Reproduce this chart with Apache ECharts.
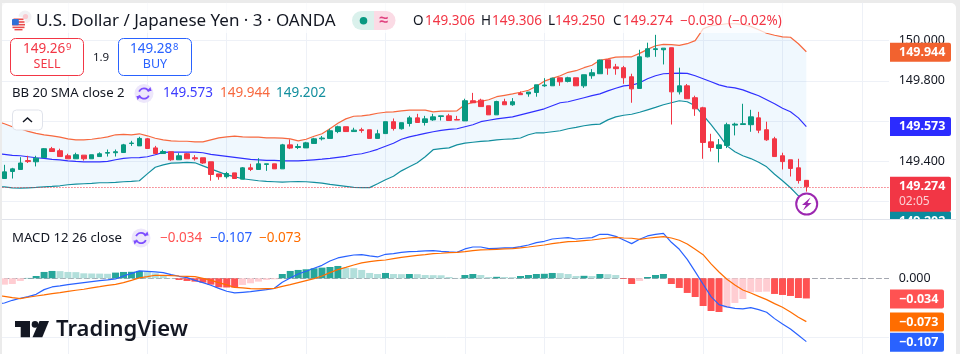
<!DOCTYPE html>
<html>
<head>
<meta charset="utf-8">
<title>USD/JPY</title>
<script src="https://cdn.jsdelivr.net/npm/echarts@6/dist/echarts.min.js"></script>
<style>
  html, body { margin: 0; padding: 0; background: #ebebeb; }
  #panel { position: absolute; left: 2px; top: 3px; width: 954px; height: 351px; background: #fff; border-radius: 5px 5px 0 0; }
  #chart { position: absolute; left: 0; top: 0; width: 960px; height: 354px; }
</style>
</head>
<body>
<div id="panel"></div>
<div id="chart"></div>
<script>
// candles, oldest first
var opens = [
  149.315,149.350,149.360,149.404,149.398,149.419,149.463,149.453,149.428,149.413,
  149.431,149.413,149.424,149.441,149.443,149.444,149.489,149.477,149.512,149.467,
  149.439,149.448,149.408,149.438,149.418,149.418,149.398,149.338,149.324,149.343,
  149.312,149.368,149.360,149.385,149.388,149.363,149.482,149.469,149.467,149.489,
  149.512,149.514,149.548,149.572,149.548,149.557,149.557,149.514,149.538,149.597,
  149.562,149.588,149.616,149.593,149.606,149.623,149.626,149.608,149.601,149.701,
  149.704,149.676,149.631,149.696,149.681,149.737,149.735,149.742,149.775,149.775,
  149.815,149.797,149.815,149.775,149.825,149.835,149.904,149.869,149.865,149.820,
  149.762,149.919,149.955,149.954,149.964,149.745,149.775,149.716,149.666,149.497,
  149.464,149.479,149.580,149.583,149.582,149.616,149.557,149.512,149.428,149.408,
  149.368,149.306]
var closes = [
  149.348,149.363,149.392,149.399,149.416,149.463,149.449,149.424,149.413,149.433,
  149.413,149.433,149.438,149.444,149.448,149.482,149.491,149.514,149.464,149.439,
  149.449,149.408,149.428,149.413,149.413,149.392,149.335,149.324,149.340,149.315,
  149.368,149.360,149.388,149.388,149.363,149.482,149.466,149.474,149.492,149.512,
  149.516,149.552,149.572,149.548,149.555,149.553,149.514,149.537,149.597,149.563,
  149.592,149.616,149.593,149.611,149.621,149.626,149.603,149.605,149.701,149.691,
  149.672,149.631,149.697,149.681,149.696,149.731,149.744,149.780,149.779,149.813,
  149.795,149.815,149.775,149.830,149.840,149.903,149.863,149.860,149.815,149.760,
  149.919,149.959,149.959,149.962,149.745,149.775,149.711,149.661,149.494,149.469,
  149.482,149.582,149.585,149.587,149.621,149.555,149.507,149.424,149.399,149.365,
  149.305,149.274]
var lows = [
  149.315,149.315,149.360,149.392,149.375,149.419,149.449,149.424,149.413,149.413,
  149.404,149.413,149.424,149.424,149.424,149.444,149.477,149.477,149.464,149.439,
  149.439,149.403,149.408,149.413,149.404,149.388,149.304,149.309,149.315,149.315,
  149.312,149.352,149.360,149.353,149.363,149.363,149.461,149.461,149.467,149.489,
  149.504,149.514,149.540,149.548,149.548,149.542,149.514,149.514,149.538,149.553,
  149.558,149.573,149.593,149.578,149.601,149.603,149.603,149.605,149.601,149.691,
  149.672,149.631,149.631,149.681,149.676,149.731,149.721,149.721,149.770,149.775,
  149.775,149.792,149.775,149.765,149.810,149.835,149.830,149.830,149.785,149.691,
  149.762,149.916,149.919,149.881,149.583,149.732,149.711,149.626,149.413,149.449,
  149.395,149.466,149.529,149.583,149.547,149.540,149.502,149.424,149.360,149.325,
  149.290,149.250]
var highs = [
  149.383,149.368,149.421,149.428,149.428,149.466,149.472,149.463,149.438,149.443,
  149.431,149.433,149.445,149.459,149.459,149.487,149.502,149.522,149.516,149.477,
  149.458,149.448,149.441,149.441,149.431,149.418,149.398,149.338,149.348,149.343,
  149.372,149.388,149.416,149.388,149.388,149.487,149.509,149.487,149.497,149.517,
  149.526,149.562,149.577,149.572,149.567,149.567,149.557,149.557,149.597,149.613,
  149.592,149.626,149.636,149.626,149.636,149.626,149.636,149.626,149.711,149.740,
  149.711,149.676,149.701,149.711,149.714,149.747,149.744,149.780,149.813,149.815,
  149.815,149.820,149.815,149.830,149.858,149.905,149.904,149.884,149.874,149.835,
  149.954,149.989,150.028,149.962,149.964,149.865,149.784,149.726,149.671,149.537,
  149.511,149.592,149.592,149.686,149.656,149.646,149.597,149.522,149.443,149.408,
  149.413,149.306]

// bollinger bands and macd lines start one bar earlier, just off the left edge
var upperBand = [149.600,
  149.587,149.572,149.562,149.549,149.539,149.532,149.527,149.520,149.512,149.507,
  149.507,149.510,149.515,149.522,149.532,149.534,149.532,149.537,149.527,149.515,
  149.507,149.502,149.500,149.500,149.497,149.497,149.507,149.517,149.522,149.525,
  149.522,149.520,149.520,149.517,149.517,149.515,149.512,149.502,149.510,149.525,
  149.537,149.562,149.589,149.611,149.624,149.626,149.631,149.639,149.644,149.646,
  149.651,149.654,149.654,149.654,149.646,149.649,149.649,149.651,149.681,149.693,
  149.698,149.706,149.721,149.728,149.735,149.743,149.753,149.773,149.798,149.812,
  149.825,149.842,149.850,149.865,149.877,149.902,149.909,149.917,149.919,149.919,
  149.936,149.956,149.974,149.981,149.979,149.976,149.984,149.999,150.058,150.073,
  150.078,150.083,150.083,150.080,150.070,150.053,150.036,150.026,150.018,150.016,
  149.984,149.944]
var middleBand = [149.439,
  149.435,149.430,149.428,149.423,149.418,149.415,149.410,149.408,149.403,149.400,
  149.398,149.398,149.398,149.400,149.408,149.415,149.418,149.419,149.423,149.433,
  149.445,149.446,149.446,149.446,149.446,149.443,149.435,149.430,149.425,149.420,
  149.415,149.410,149.408,149.405,149.405,149.403,149.403,149.403,149.405,149.408,
  149.411,149.415,149.420,149.425,149.433,149.438,149.448,149.460,149.475,149.490,
  149.510,149.522,149.530,149.539,149.547,149.554,149.559,149.562,149.572,149.582,
  149.597,149.604,149.611,149.616,149.621,149.631,149.641,149.651,149.661,149.676,
  149.691,149.696,149.706,149.716,149.726,149.735,149.750,149.763,149.775,149.778,
  149.790,149.810,149.825,149.835,149.837,149.838,149.837,149.825,149.810,149.795,
  149.780,149.770,149.765,149.755,149.740,149.726,149.706,149.686,149.664,149.646,
  149.616,149.573]
var lowerBand = [149.273,
  149.274,149.269,149.267,149.269,149.271,149.274,149.276,149.279,149.284,149.287,
  149.289,149.291,149.294,149.294,149.296,149.299,149.301,149.304,149.338,149.371,
  149.383,149.391,149.393,149.395,149.393,149.378,149.363,149.348,149.333,149.324,
  149.314,149.309,149.304,149.301,149.299,149.297,149.299,149.300,149.299,149.296,
  149.292,149.286,149.281,149.276,149.271,149.270,149.270,149.289,149.309,149.326,
  149.353,149.373,149.393,149.423,149.458,149.463,149.467,149.482,149.491,149.495,
  149.499,149.502,149.507,149.510,149.512,149.516,149.532,149.542,149.542,149.547,
  149.552,149.562,149.569,149.577,149.582,149.585,149.606,149.621,149.629,149.634,
  149.644,149.656,149.668,149.681,149.691,149.701,149.696,149.676,149.629,149.582,
  149.532,149.477,149.448,149.428,149.414,149.396,149.373,149.336,149.304,149.269,
  149.229,149.202]

var macdLine = [-0.0438,
  -0.0416,-0.0371,-0.0337,-0.0309,-0.0270,-0.0191,-0.0146,-0.0129,-0.0107,-0.0090,
  -0.0073,-0.0056,-0.0039,-0.0028,-0.0011,0.0039,0.0084,0.0124,0.0118,0.0107,
  0.0096,0.0062,0.0034,0.0011,-0.0034,-0.0073,-0.0118,-0.0169,-0.0219,-0.0247,
  -0.0236,-0.0225,-0.0208,-0.0191,-0.0169,-0.0067,0.0006,0.0073,0.0118,0.0169,
  0.0219,0.0292,0.0343,0.0371,0.0393,0.0399,0.0377,0.0360,0.0405,0.0416,
  0.0438,0.0450,0.0455,0.0461,0.0467,0.0455,0.0444,0.0438,0.0495,0.0528,
  0.0528,0.0500,0.0506,0.0512,0.0512,0.0534,0.0562,0.0601,0.0624,0.0663,
  0.0675,0.0686,0.0663,0.0675,0.0686,0.0742,0.0742,0.0708,0.0646,0.0585,
  0.0658,0.0714,0.0742,0.0759,0.0607,0.0489,0.0320,0.0112,-0.0101,-0.0309,
  -0.0444,-0.0483,-0.0506,-0.0517,-0.0495,-0.0528,-0.0573,-0.0680,-0.0770,-0.0854,
  -0.0961,-0.1068]
var signalLine = [-0.0287,
  -0.0304,-0.0326,-0.0343,-0.0320,-0.0298,-0.0281,-0.0259,-0.0242,-0.0219,-0.0202,
  -0.0185,-0.0163,-0.0141,-0.0118,-0.0101,-0.0073,-0.0034,0.0006,0.0028,0.0051,
  0.0051,0.0045,0.0039,0.0034,0.0028,0,-0.0034,-0.0073,-0.0112,-0.0152,
  -0.0163,-0.0174,-0.0180,-0.0174,-0.0169,-0.0135,-0.0107,-0.0073,-0.0039,-0.0006,
  0.0039,0.0096,0.0146,0.0185,0.0225,0.0259,0.0281,0.0298,0.0309,0.0332,
  0.0354,0.0371,0.0388,0.0399,0.0416,0.0422,0.0433,0.0438,0.0450,0.0467,
  0.0478,0.0483,0.0489,0.0495,0.0500,0.0512,0.0528,0.0545,0.0562,0.0585,
  0.0601,0.0618,0.0624,0.0635,0.0646,0.0663,0.0680,0.0691,0.0680,0.0675,
  0.0658,0.0675,0.0691,0.0703,0.0680,0.0641,0.0579,0.0489,0.0399,0.0242,
  0.0107,-0.0017,-0.0112,-0.0197,-0.0247,-0.0304,-0.0360,-0.0427,-0.0489,-0.0568,
  -0.0658,-0.0731]
var macdHist = [
  -0.0107,-0.0096,-0.0045,0.0006,0.0039,0.0107,0.0124,0.0121,0.0107,0.0104,
  0.0084,0.0081,0.0079,0.0076,0.0096,0.0107,0.0110,0.0124,0.0118,0.0084,
  0.0056,0.0006,-0.0028,-0.0045,-0.0056,-0.0073,-0.0107,-0.0152,-0.0155,-0.0157,
  -0.0112,-0.0084,-0.0056,-0.0028,-0.0017,0.0073,0.0124,0.0141,0.0152,0.0169,
  0.0180,0.0191,0.0208,0.0174,0.0171,0.0141,0.0090,0.0073,0.0090,0.0073,
  0.0070,0.0073,0.0070,0.0056,0.0053,0.0051,0.0022,0.0006,0.0056,0.0073,
  0.0056,0.0022,0.0025,0.0022,0.0020,0.0039,0.0056,0.0073,0.0076,0.0090,
  0.0087,0.0073,0.0039,0.0042,0.0039,0.0073,0.0070,0.0056,-0.0011,-0.0096,
  -0.0045,0.0022,0.0056,0.0073,-0.0096,-0.0163,-0.0247,-0.0315,-0.0467,-0.0551,
  -0.0568,-0.0495,-0.0416,-0.0349,-0.0236,-0.0230,-0.0225,-0.0264,-0.0281,-0.0298,
  -0.0332,-0.0340]

var lastClose = 149.274
var FONT = '"Noto Sans", sans-serif'
var UP = '#089981'
var DOWN = '#F23645'
var GRID_COLOR = '#eef1f7'

// one hidden bar on the left plus empty room on the right
var categories = []
for (var k = 0; k < 114; k++) categories.push(k)

var candleData = [['-', '-', '-', '-']]
for (var i = 0; i < opens.length; i++) {
  candleData.push([opens[i], closes[i], lows[i], highs[i]])
}
var bandWidth = upperBand.map(function (v, i) { return +(v - lowerBand[i]).toFixed(3) })

var histData = [null].concat(macdHist)

function histColor (p) {
  var i = p.dataIndex - 1
  var v = macdHist[i]
  var prev = i > 0 ? macdHist[i - 1] : -1
  if (v >= 0) return prev < v ? '#26a69a' : '#b2dfdb'
  return prev < v ? '#ffcdd2' : '#ff5252'
}

function lineSeries (name, data, color, xi) {
  return {
    name: name, type: 'line', data: data, xAxisIndex: xi, yAxisIndex: xi,
    showSymbol: false, smooth: false, z: 3,
    lineStyle: { color: color, width: 1.2 }
  }
}

var chart = echarts.init(document.getElementById('chart'), null, { renderer: 'canvas' })

var baseX = {
  type: 'category', data: categories, boundaryGap: false,
  axisTick: { show: false }, axisLabel: { show: false },
  splitLine: {
    show: true,
    interval: function (index) { return index % 10 === 9 },
    lineStyle: { color: GRID_COLOR, width: 1 }
  }
}

chart.setOption({
  animation: false,
  backgroundColor: 'transparent',
  textStyle: { fontFamily: FONT },
  grid: [
    { left: -3.54, top: 2.8, width: 897.22, height: 239.2, outerBoundsMode: 'none' },
    { left: -3.54, top: 219, width: 897.22, height: 177.9, outerBoundsMode: 'none' }
  ],
  xAxis: [
    Object.assign({}, baseX, { gridIndex: 0, axisLine: { show: false } }),
    Object.assign({}, baseX, {
      gridIndex: 1,
      axisLine: { show: true, onZero: true, lineStyle: { color: '#a3a6af', type: [5, 3], width: 1 } }
    })
  ],
  yAxis: [
    {
      gridIndex: 0, position: 'right', min: 149.0, max: 150.187, interval: 0.2,
      axisLine: { show: false }, axisTick: { show: false },
      axisLabel: {
        margin: 5, color: '#131722', fontSize: 12.5, fontFamily: FONT,
        showMinLabel: false, showMaxLabel: false,
        // 149.600 and 149.200 sit behind the price tags in the reference
        formatter: function (v) {
          if (Math.abs(v - 149.6) < 0.01 || Math.abs(v - 149.2) < 0.01) return ''
          return v.toFixed(3)
        }
      },
      splitLine: { show: true, showMinLine: false, showMaxLine: false, lineStyle: { color: GRID_COLOR, width: 1 } }
    },
    {
      gridIndex: 1, position: 'right', min: -0.2, max: 0.1, interval: 0.1,
      axisLine: { show: false }, axisTick: { show: false },
      axisLabel: {
        margin: 5, color: '#131722', fontSize: 12.5, fontFamily: FONT,
        formatter: function (v) { return Math.abs(v) < 1e-6 ? '0.000' : '' }
      },
      // the zero row only has the dashed axis line
      splitLine: { show: true, showMinLine: false, showMaxLine: false, lineStyle: { color: [GRID_COLOR, 'transparent'], width: 1 } }
    }
  ],
  series: [
    {
      name: 'bandBase', type: 'line', data: lowerBand, stack: 'bb', showSymbol: false,
      lineStyle: { width: 0 }, z: 1
    },
    {
      name: 'bandFill', type: 'line', data: bandWidth, stack: 'bb', showSymbol: false,
      lineStyle: { width: 0 }, areaStyle: { color: 'rgba(33,150,243,0.065)', opacity: 1 }, z: 1
    },
    lineSeries('upper', upperBand, '#F7693F', 0),
    lineSeries('middle', middleBand, '#3030FF', 0),
    lineSeries('lower', lowerBand, '#138F9E', 0),
    {
      name: 'USDJPY', type: 'candlestick', data: candleData, barWidth: 5, z: 4,
      itemStyle: { color: UP, color0: DOWN, borderColor: UP, borderColor0: DOWN, borderWidth: 1 },
      markLine: {
        silent: true, symbol: 'none', animation: false,
        label: { show: false },
        lineStyle: { color: DOWN, type: [1, 2], width: 1 },
        data: [{ yAxis: lastClose }]
      }
    },
    {
      name: 'hist', type: 'bar', data: histData, xAxisIndex: 1, yAxisIndex: 1, barWidth: 7, z: 2,
      itemStyle: { color: histColor }
    },
    lineSeries('macd', macdLine, '#2962FF', 1),
    lineSeries('signal', signalLine, '#FF6D00', 1)
  ]
})

// --- overlay: legend rows, price tags, logo ---
function txt (x, y, text, color, size, weight, align) {
  return {
    type: 'text', x: x, y: y, z: 50, silent: true,
    style: {
      text: text, fill: color,
      font: (weight || 'normal') + ' ' + size + 'px ' + FONT,
      align: align || 'left', verticalAlign: 'middle'
    }
  }
}
function box (x, y, w, h, fill, stroke, r, z) {
  return {
    type: 'rect', z: z || 40, silent: true,
    shape: { x: x, y: y, width: w, height: h, r: r || 0 },
    style: { fill: fill, stroke: stroke || null, lineWidth: stroke ? 1 : 0 }
  }
}
function syncIcon (cx, cy) {
  var c = '#7c4dff'
  return [
    { type: 'circle', z: 45, silent: true, shape: { cx: cx, cy: cy, r: 9.5 }, style: { fill: '#ede7fb' } },
    { type: 'arc', z: 46, silent: true, shape: { cx: cx, cy: cy, r: 5.2, startAngle: 3.5, endAngle: 5.9 }, style: { stroke: c, fill: null, lineWidth: 1.8 } },
    { type: 'arc', z: 46, silent: true, shape: { cx: cx, cy: cy, r: 5.2, startAngle: 0.4, endAngle: 2.8 }, style: { stroke: c, fill: null, lineWidth: 1.8 } },
    { type: 'polygon', z: 46, silent: true, shape: { points: [[cx + 3, cy - 2.4], [cx + 7.6, cy - 2.4], [cx + 6.4, cy - 6.6]] }, style: { fill: c } },
    { type: 'polygon', z: 46, silent: true, shape: { points: [[cx - 3, cy + 2.4], [cx - 7.6, cy + 2.4], [cx - 6.4, cy + 6.6]] }, style: { fill: c } }
  ]
}

function buildOverlay () {
  var els = []
  function add (e) { els = els.concat(e) }
  function py (v) { return chart.convertToPixel({ yAxisIndex: 0 }, v) }
  function my (v) { return chart.convertToPixel({ yAxisIndex: 1 }, v) }

  // covers for the bits of plot outside the reference's panes
  add(box(0, 0, 2, 354, '#ebebeb', null, 0, 30))
  add(box(889, 3, 6, 351, '#fff', null, 0, 30))
  // legend backdrop washes out what runs under the top row
  add(box(2, 3, 783, 30, 'rgba(255,255,255,0.72)', null, 0, 30))

  // flag
  add({ type: 'circle', z: 41, silent: true, shape: { cx: 25, cy: 17, r: 6.5 }, style: { fill: '#f1f0f3' } })
  add({ type: 'circle', z: 41, silent: true, shape: { cx: 25.5, cy: 16.5, r: 2.6 }, style: { fill: '#f9c9cf' } })
  add({ type: 'circle', z: 42, silent: true, shape: { cx: 18.5, cy: 24, r: 7.4 }, style: { fill: '#fff' } })
  add(box(13.5, 18.5, 10, 1.6, '#e94b4b', null, 0, 43))
  add(box(12.5, 21.2, 12, 1.6, '#e94b4b', null, 0, 43))
  add(box(12, 23.9, 13, 1.6, '#e94b4b', null, 0, 43))
  add(box(12.5, 26.6, 12, 1.6, '#e94b4b', null, 0, 43))
  add(box(14.5, 29, 8, 1.4, '#e94b4b', null, 0, 43))
  add(box(12, 19, 6.8, 6.2, '#2f6fd6', null, 1, 44))

  add(txt(36, 21, 'U.S. Dollar / Japanese Yen · 3 · OANDA', '#131722', 17))

  // market status pill
  add(box(352, 11, 22, 19, '#daf1ec', null, [9.5, 0, 0, 9.5], 41))
  add(box(374, 11, 21.5, 19, '#fbdbe5', null, [0, 9.5, 9.5, 0], 41))
  add({ type: 'circle', z: 42, silent: true, shape: { cx: 363.5, cy: 20.7, r: 3.8 }, style: { fill: UP } })
  add(txt(384, 20.5, '≈', '#e0427f', 16, 'bold', 'center'))

  // ohlc row
  add(txt(413, 21, 'O', '#131722', 13.5))
  add(txt(425, 21, '149.306', DOWN, 13.5))
  add(txt(481, 21, 'H', '#131722', 13.5))
  add(txt(492, 21, '149.306', DOWN, 13.5))
  add(txt(548, 21, 'L', '#131722', 13.5))
  add(txt(555, 21, '149.250', DOWN, 13.5))
  add(txt(613, 21, 'C', '#131722', 13.5))
  add(txt(623, 21, '149.274', DOWN, 13.5))
  add(txt(680, 21, '−0.030', DOWN, 13.5))
  add(txt(728, 21, '(−0.02%)', DOWN, 13.5))

  // sell / buy
  add(box(10.5, 38.5, 73, 37, '#fff', DOWN, 5, 41))
  add(txt(23, 49, '149.26', DOWN, 13.5))
  add(txt(66, 47, '9', DOWN, 9.5))
  add(txt(47, 64, 'SELL', DOWN, 12.5, 'normal', 'center'))
  add(txt(101, 57.5, '1.9', '#131722', 11.5, 'normal', 'center'))
  add(box(118.5, 38.5, 73, 37, '#fff', '#2962FF', 5, 41))
  add(txt(130, 49, '149.28', '#2962FF', 13.5))
  add(txt(173, 47, '8', '#2962FF', 9.5))
  add(txt(155, 64, 'BUY', '#2962FF', 12.5, 'normal', 'center'))

  // bollinger legend
  add(txt(12, 93.5, 'BB 20 SMA close 2', '#131722', 13.2))
  add(syncIcon(144, 93.5))
  add(txt(163, 93.5, '149.573', '#3D3DFF', 13.5))
  add(txt(220, 93.5, '149.944', '#F7693F', 13.5))
  add(txt(276, 93.5, '149.202', '#138F9E', 13.5))

  // collapse button
  add(box(12.5, 110, 30, 20, '#fff', '#e0e3eb', 4, 41))
  add({ type: 'polyline', z: 42, silent: true, shape: { points: [[23, 122], [27.5, 118], [32, 122]] }, style: { stroke: '#131722', fill: null, lineWidth: 1.5 } })

  // macd legend
  add(txt(12, 238, 'MACD 12 26 close', '#131722', 13.2))
  add(syncIcon(141, 238))
  add(txt(160, 238, '−0.034', '#ff5252', 13.5))
  add(txt(210, 238, '−0.107', '#2962FF', 13.5))
  add(txt(259, 238, '−0.073', '#FF6D00', 13.5))

  // price tags
  var TX = 899
  function tag (y, h, w, color) { add(box(890, y, w, h, color, null, [0, 2, 2, 0], 41)) }
  var y
  y = py(149.944); tag(y - 9, 19, 61, '#F2622F'); add(txt(TX, y + 0.5, '149.944', '#fff', 12.5, 'bold'))
  y = py(149.573); tag(y - 9.5, 19, 61, '#2B2BFF'); add(txt(TX, y, '149.573', '#fff', 12.5, 'bold'))
  tag(211, 10, 61, '#0B8A9E'); add(txt(TX, 221, '149.202', '#fff', 12.5, 'bold'))
  add(box(889, 219.5, 67, 12, '#fff', null, 0, 52))
  y = py(lastClose); tag(y - 10, 35, 61, DOWN)
  add(Object.assign(txt(TX, y, '149.274', '#fff', 12.5, 'bold'), { z: 51 }))
  add(Object.assign(txt(TX, y + 15, '02:05', '#fbd0d4', 12, 'normal'), { z: 51 }))
  add(box(889, 219, 67, 1, '#e0e3eb', null, 0, 53))
  add(box(2, 219, 887, 1, '#e0e3eb', null, 0, 53))

  y = my(-0.034); tag(y - 9, 19, 54, '#FF5252'); add(txt(TX, y + 0.5, '−0.034', '#fff', 12.5, 'bold'))
  y = my(-0.073); tag(y - 9, 19, 54, '#FF6D00'); add(txt(TX, y + 0.5, '−0.073', '#fff', 12.5, 'bold'))
  y = my(-0.107); tag(y - 9, 19, 54, '#2962FF'); add(txt(TX, y + 0.5, '−0.107', '#fff', 12.5, 'bold'))

  // lightning marker at the last bar
  add({ type: 'circle', z: 45, silent: true, shape: { cx: 806.7, cy: 204, r: 10.5 }, style: { fill: '#fff', stroke: '#9c27b0', lineWidth: 2 } })
  add({ type: 'polygon', z: 46, silent: true, shape: { points: [[810.5, 197.5], [802, 205], [806, 205], [803, 210.5], [811.5, 203], [807.5, 203]] }, style: { fill: '#9c27b0' } })

  // logo
  var ink = '#131722'
  add({ type: 'polygon', z: 45, silent: true, shape: { points: [[15, 321], [30, 321], [30, 337.3], [20.7, 337.3], [20.7, 327], [15, 327]] }, style: { fill: ink } })
  add({ type: 'circle', z: 45, silent: true, shape: { cx: 35, cy: 324.4, r: 3.3 }, style: { fill: ink } })
  add({ type: 'polygon', z: 45, silent: true, shape: { points: [[39.5, 321], [49, 321], [42.3, 337.3], [32.5, 337.3]] }, style: { fill: ink } })
  add(txt(56, 330, 'TradingView', ink, 22, '600'))

  return els
}

chart.setOption({ graphic: { elements: buildOverlay() } })
</script>
</body>
</html>
